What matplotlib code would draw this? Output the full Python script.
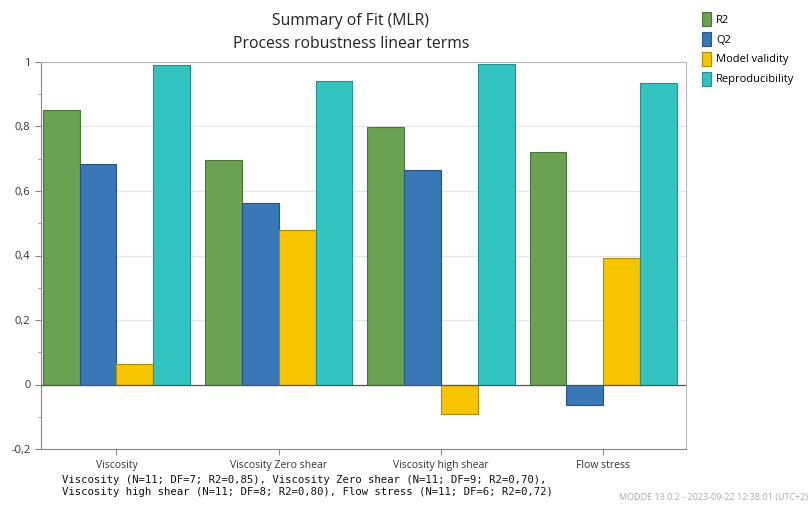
import matplotlib.pyplot as plt
import numpy as np
from matplotlib.patches import Patch
from matplotlib.ticker import MultipleLocator, FuncFormatter

# responses and fit statistics
responses = ["Viscosity", "Viscosity Zero shear", "Viscosity high shear", "Flow stress"]
r2 = [0.85, 0.695, 0.80, 0.72]
q2 = [0.683, 0.562, 0.665, -0.065]
model_validity = [0.065, 0.478, -0.09, 0.391]
reproducibility = [0.99, 0.941, 0.994, 0.935]

series_names = ["R2", "Q2", "Model validity", "Reproducibility"]
fill_colors = ["#6aa153", "#3a77b6", "#f6c500", "#33c4c1"]
edge_colors = ["#4b7439", "#285485", "#b08c00", "#23908d"]

footnote = ("Viscosity (N=11; DF=7; R2=0,85), Viscosity Zero shear (N=11; DF=9; R2=0,70),\n"
            "Viscosity high shear (N=11; DF=8; R2=0,80), Flow stress (N=11; DF=6; R2=0,72)")
stamp = "MODDE 13.0.2 - 2023-09-22 12:38:01 (UTC+2)"

plt.rcParams["font.family"] = ["Open Sans", "DejaVu Sans"]

fig = plt.figure(figsize=(8.1, 5.07), dpi=100)
ax = fig.add_axes([41 / 810, 1 - 449 / 507, (686 - 41) / 810, (449 - 62) / 507])

x = np.arange(len(responses))
width = 0.227
values = [r2, q2, model_validity, reproducibility]
for i, vals in enumerate(values):
    ax.bar(x + (i - 1.5) * width, vals, width, color=fill_colors[i],
           edgecolor=edge_colors[i], linewidth=0.8, zorder=3)

ax.set_xlim(-0.465, 3.51)
ax.set_ylim(-0.2, 1.0)
ax.yaxis.set_major_locator(MultipleLocator(0.2))
ax.yaxis.set_minor_locator(MultipleLocator(0.1))
ax.yaxis.set_major_formatter(FuncFormatter(
    lambda v, _: "0" if abs(v) < 1e-9 else ("1" if abs(v - 1) < 1e-9 else f"{v:.1f}".replace(".", ","))))
ax.set_xticks(x)
ax.set_xticklabels(responses)

ax.grid(axis="y", color="#e4e4e4", linewidth=0.8, zorder=0)
ax.axhline(0, color="#555555", linewidth=0.9, zorder=4)

for side in ["left", "bottom"]:
    ax.spines[side].set_color("#888888")
for side in ["top", "right"]:
    ax.spines[side].set_color("#b8b8b8")
ax.tick_params(axis="both", which="both", colors="#888888", labelcolor="#333333", labelsize=8)
ax.tick_params(axis="y", which="major", length=4)
ax.tick_params(axis="y", which="minor", length=2)
ax.tick_params(axis="x", length=4, pad=4, labelsize=7.5)

fig.text(0.433, 0.958, "Summary of Fit (MLR)", ha="center", va="center", fontsize=11.3, color="#222222")
fig.text(0.433, 0.914, "Process robustness linear terms", ha="center", va="center", fontsize=11.3, color="#222222")

handles = [Patch(facecolor=c, edgecolor=e, linewidth=0.8) for c, e in zip(fill_colors, edge_colors)]
fig.legend(handles, series_names, loc="upper left", bbox_to_anchor=(0.861, 0.985),
           frameon=False, fontsize=8, handlelength=0.8, handleheight=1.6,
           handletextpad=0.5, labelspacing=0.5, borderaxespad=0)

fig.text(0.076, 0.042, footnote, ha="left", va="center", fontsize=7.7,
         family="DejaVu Sans Mono", color="#111111", linespacing=1.25)
fig.text(0.997, 0.01, stamp, ha="right", va="bottom", fontsize=6.5, color="#aaaaaa")

fig.savefig("out.png", dpi=100)
